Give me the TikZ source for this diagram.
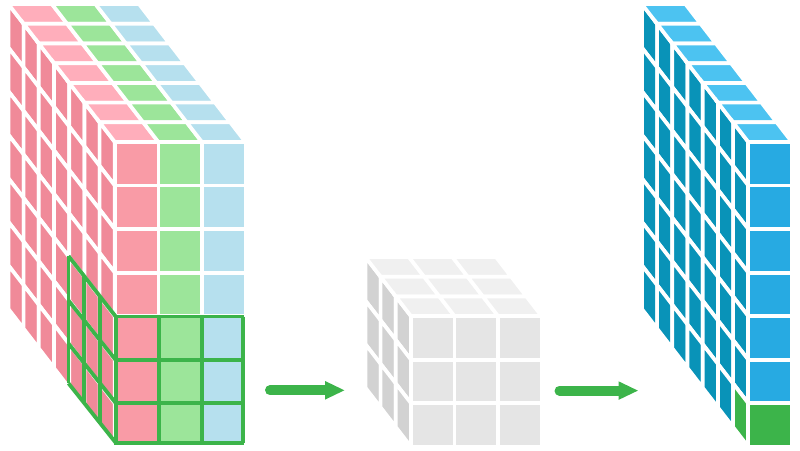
\documentclass[tikz,border=0pt]{standalone}
\usepackage{tikz}
\usetikzlibrary{arrows.meta}

\definecolor{pinkfront}{HTML}{F99BA6}
\definecolor{pinktop}{HTML}{FFAEBB}
\definecolor{pinkside}{HTML}{F08A99}
\definecolor{limecell}{HTML}{9CE59A}
\definecolor{skycell}{HTML}{B6E0EE}
\definecolor{grayfront}{HTML}{E5E5E5}
\definecolor{graytop}{HTML}{F0F0F0}
\definecolor{grayside}{HTML}{D2D2D2}
\definecolor{bluefront}{HTML}{27AAE2}
\definecolor{bluetop}{HTML}{4CC3F1}
\definecolor{blueside}{HTML}{0993B8}
\definecolor{selectgreen}{HTML}{3CB44A}

\tikzset{
    cell/.style={draw=white, line width=3.7pt},
    selectline/.style={draw=selectgreen, line width=3.8pt},
    flowarrow/.style={draw=selectgreen, line width=10pt, line cap=round,
        -{Triangle[length=20pt, width=17pt]}}
}

% cell size and depth step, in pixels
\def\cw{43.55}
\def\dx{15.2}
\def\dy{19.7}

% #1,#2 = front top left corner of the block, #3 = layer, #4 = column or row, #5 = colour
\newcommand{\frontcell}[5]{
    \fill[cell, fill=#5] ({#1+#3*\cw},{#2+#4*\cw}) rectangle ++(\cw,\cw);
}
\newcommand{\topcell}[5]{
    \fill[cell, fill=#5] ({#1+#4*\cw-#3*\dx},{#2-#3*\dy}) -- ++(\cw,0)
        -- ++(-\dx,-\dy) -- ++(-\cw,0) -- cycle;
}
\newcommand{\sidecell}[5]{
    \fill[cell, fill=#5] ({#1-#3*\dx},{#2+#4*\cw-#3*\dy}) -- ++(-\dx,-\dy)
        -- ++(0,\cw) -- ++(\dx,\dy) -- cycle;
}

\begin{document}
\begin{tikzpicture}[x=1pt, y=-1pt]
    \useasboundingbox (0,0) rectangle (800,450);

    % Input block: 7 rows, 3 columns, 7 layers
    \foreach \d in {6,...,0} {
        \foreach \r in {0,...,6} {
            \sidecell{114.8}{142}{\d}{\r}{pinkside}
        }
        \foreach \c/\tint/\toptint in {0/pinkfront/pinktop, 1/limecell/limecell, 2/skycell/skycell} {
            \topcell{114.8}{142}{\d}{\c}{\toptint}
        }
    }
    \foreach \c/\tint in {0/pinkfront, 1/limecell, 2/skycell} {
        \foreach \r in {0,...,6} {
            \frontcell{114.8}{142}{\c}{\r}{\tint}
        }
    }

    % Selected 3x3x3 region
    \foreach \k in {0,...,3} {
        \draw[selectline] ({115.7-15.73*\k},{316.5-20.17*\k}) -- ({115.7-15.73*\k},{442.7-19.8*\k});
    }
    \foreach \fy/\by in {316.5/256, 360/300.5, 403/343.5, 442.7/383.3} {
        \draw[selectline] (115.7,\fy) -- (68.5,\by);
        \draw[selectline] (114,\fy) -- (244.3,\fy);
    }
    \foreach \x in {158.9,202,242.7} {
        \draw[selectline] (\x,316.5) -- (\x,442.7);
    }

    % Middle block: 3 rows, 3 columns, 3 layers
    \foreach \d in {2,1,0} {
        \foreach \r in {0,1,2} {
            \sidecell{411}{316.15}{\d}{\r}{grayside}
        }
        \foreach \c in {0,1,2} {
            \topcell{411}{316.15}{\d}{\c}{graytop}
        }
    }
    \foreach \c in {0,1,2} {
        \foreach \r in {0,1,2} {
            \frontcell{411}{316.15}{\c}{\r}{grayfront}
        }
    }

    % Output block: one column, bottom front cell selected
    \foreach \d in {6,...,0} {
        \foreach \r in {0,...,6} {
            \sidecell{748.3}{142}{\d}{\r}{blueside}
        }
        \topcell{748.3}{142}{\d}{0}{bluetop}
    }
    \foreach \r in {0,...,5} {
        \frontcell{748.3}{142}{0}{\r}{bluefront}
    }
    \sidecell{748.3}{142}{0}{6}{selectgreen}
    \frontcell{748.3}{142}{0}{6}{selectgreen}

    % Arrows between the blocks
    \coordinate (inleft) at (270,390.3);
    \coordinate (inright) at (345,390.3);
    \coordinate (outleft) at (559.5,390.6);
    \coordinate (outright) at (638.5,390.6);
    \draw[flowarrow] (inleft) -- (inright);
    \draw[flowarrow] (outleft) -- (outright);

\end{tikzpicture}
\end{document}
